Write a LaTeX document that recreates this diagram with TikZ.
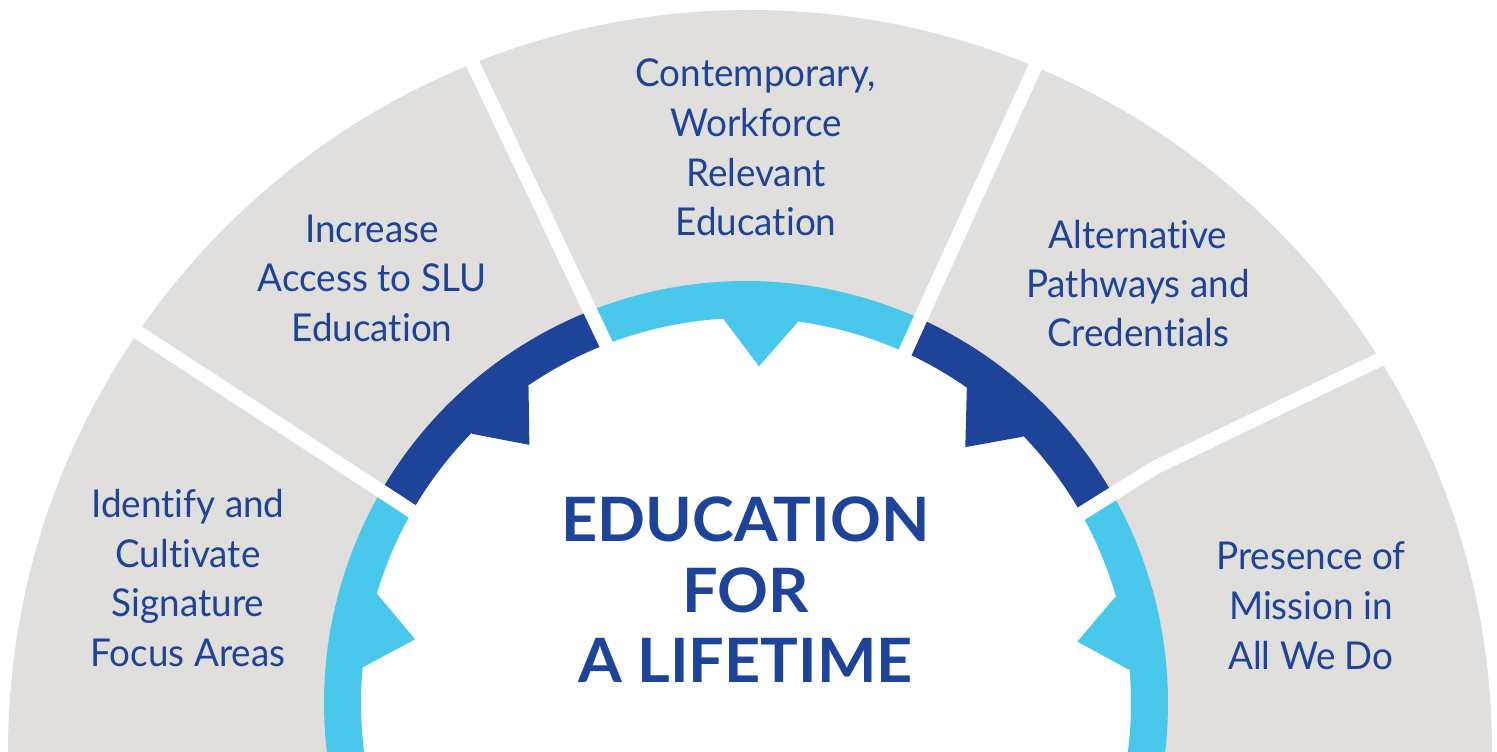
\documentclass[tikz,border=0pt]{standalone}
\usepackage{fontspec}
\setmainfont{Lato}[Ligatures=NoCommon]
\newfontfamily\lblfont{Lato}[FakeStretch=0.96, Ligatures=NoCommon]
\newfontfamily\ttlfont{Lato}[FakeStretch=1.03, Ligatures=NoCommon]
\definecolor{grayF}{HTML}{E0DFDD}
\definecolor{darkB}{HTML}{1E4499}
\definecolor{lightB}{HTML}{49C8EC}
\begin{document}
\begin{tikzpicture}[x=1bp,y=1bp,
  lbl/.style={text=darkB, font=\lblfont\fontsize{38.5}{46}\selectfont, anchor=base, inner sep=0pt},
  ttl/.style={text=darkB, font=\ttlfont\bfseries\fontsize{61.4}{70}\selectfont, anchor=base, inner sep=0pt},
  sepline/.style={draw=white, line width=14bp},
  ringseg/.style={line width=37bp}]
\useasboundingbox (0,0) rectangle (1497,751);
\clip (0,0) rectangle (1497,751);
\coordinate (gc) at (750,-1);
\coordinate (rc) at (746,48);
% gray sectors background
\fill[grayF] (gc) circle (742);
\fill[white] (rc) circle (386);
% ring segments
\foreach \a/\b/\c in {150/195/lightB, 111.5/150/darkB, 65.6/111.5/lightB, 29.6/65.6/darkB, -15/29.6/lightB}
  \draw[ringseg, draw=\c] ([shift={(\a:403.5)}]rc) arc[start angle=\a, end angle=\b, radius=403.5];
% inward pointers
\foreach \m/\c in {169.1/lightB, 130/darkB, 87.8/lightB, 49.4/darkB, 10.5/lightB}
  \fill[\c] ([shift={({\m+5.5}:384)}]rc) -- ([shift={(\m:337)}]rc) -- ([shift={({\m-5.5}:384)}]rc)
     -- ([shift={({\m-5.5}:395)}]rc) -- ([shift={({\m+5.5}:395)}]rc) -- cycle;
% separators
\coordinate (s1o) at (120.8,429.9); \coordinate (s1i) at (428.5,229);
\coordinate (s2o) at (463.4,707);   \coordinate (s2i) at (614,390);
\coordinate (s3o) at (1044.3,704.2);\coordinate (s3i) at (896.4,379.6);
\coordinate (s4o) at (1399,400.7);  \coordinate (s4k) at (1156,284); \coordinate (s4i) at (1063,226);
\draw[sepline] (s1o) -- (s1i);
\draw[sepline] (s2o) -- (s2i);
\draw[sepline] (s3o) -- (s3i);
\draw[sepline] (s4o) -- (s4k) -- (s4i);
% labels
\node[lbl] (l1a) at (188,233) {Identify and};
\node[lbl] (l1b) at (188,183) {Cultivate};
\node[lbl] (l1c) at (188,134) {Signature};
\node[lbl] (l1d) at (188,84) {Focus Areas};
\node[lbl] (l2a) at (372,508) {Increase};
\node[lbl] (l2b) at (372,459) {Access to SLU};
\node[lbl] (l2c) at (372,409) {Education};
\node[lbl] (l3a) at (756,664) {Contemporary,};
\node[lbl] (l3b) at (756,614) {Workforce};
\node[lbl] (l3c) at (756,564) {Relevant};
\node[lbl] (l3d) at (756,515) {Education};
\node[lbl] (l4a) at (1138,502) {Alternative};
\node[lbl] (l4b) at (1138,453) {Pathways and};
\node[lbl] (l4c) at (1138,404.5) {Credentials};
\node[lbl] (l5a) at (1311,181) {Presence of};
\node[lbl] (l5b) at (1311,131) {Mission in};
\node[lbl] (l5c) at (1311,81) {All We Do};
% title
\node[ttl] (t1) at (745.5,209.3) {EDUCATION};
\node[ttl] (t2) at (745.5,138.3) {FOR};
\node[ttl] (t3) at (745.5,68) {A LIFETIME};
\end{tikzpicture}
\end{document}
